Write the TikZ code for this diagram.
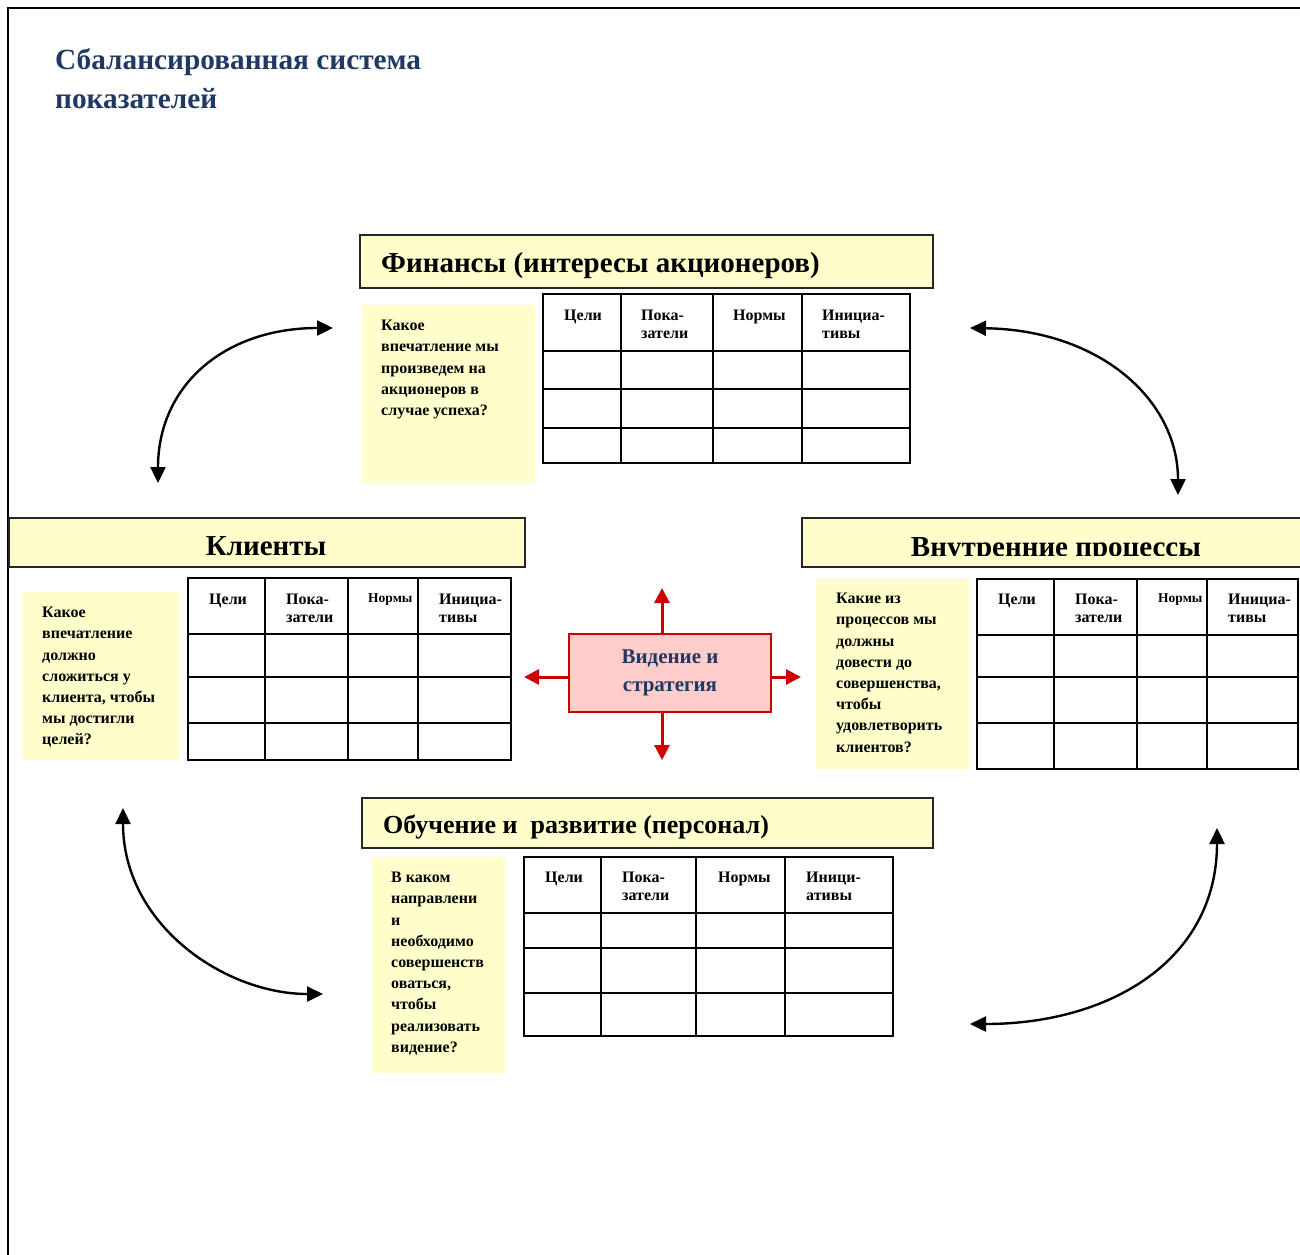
\documentclass[tikz,border=0pt]{standalone}
\usepackage{fontspec}
\setmainfont{Liberation Serif}
\usetikzlibrary{arrows.meta, positioning, calc}
\definecolor{paleyellow}{RGB}{255,255,204}
\definecolor{visionpink}{RGB}{255,204,204}
\definecolor{visionred}{RGB}{204,0,0}
\definecolor{titleblue}{RGB}{31,56,100}

\tikzset{
  headbox/.style={draw=black!85, line width=2.2pt, fill=paleyellow, anchor=north west, inner sep=0pt},
  headtitle/.style={anchor=base west, inner sep=0pt, font=\bfseries\fontsize{29}{32}\selectfont},
  questbox/.style={fill=paleyellow, anchor=north west, inner sep=0pt},
  questtext/.style={anchor=north west, inner sep=0pt, align=left, font=\bfseries\fontsize{16}{21.2}\selectfont},
  celltext/.style={anchor=north west, inner sep=0pt, align=left, font=\bfseries\fontsize{16}{18}\selectfont},
  smallcell/.style={celltext, font=\bfseries\fontsize{13.5}{16}\selectfont},
  gridline/.style={line width=2.2pt},
  cyclearrow/.style={line width=2.4pt, {Triangle[length=16pt,width=15pt]}-{Triangle[length=16pt,width=15pt]}},
  redarrow/.style={draw=visionred, line width=3pt, -{Triangle[length=15pt,width=15pt]}},
  vision/.style={draw=visionred, line width=2pt, fill=visionpink, minimum width=202pt, minimum height=78pt, align=center, text=titleblue, font=\bfseries\fontsize{21}{28}\selectfont}
}

\begin{document}
\begin{tikzpicture}[x=1pt, y=-1pt]
\useasboundingbox (0,0) rectangle (1300,1254);

% page frame
\draw[line width=2.4pt] (8,1260) -- (8,8) -- (1310,8);

% title
\node[anchor=north west, inner sep=0pt, align=left, text=titleblue, font=\bfseries\fontsize{29.3}{39.5}\selectfont] (title) at (55,48) {Сбалансированная система\\показателей};

% finance
\node[headbox, minimum width=573pt, minimum height=53pt] (finHead) at (359,234) {};
\node[headtitle] (finTitle) at (381,272) {Финансы (интересы акционеров)};
\node[questbox, minimum width=173pt, minimum height=178pt] (finQuest) at (362,305) {};
\node[questtext] (finQText) at (381,320) {Какое\\впечатление мы\\произведем на\\акционеров в\\случае успеха?};
\draw[gridline] (543,294) rectangle (910,463);
\foreach \x in {621,713,802} \draw[gridline] (\x,294) -- (\x,463);
\foreach \y in {351,389,428} \draw[gridline] (543,\y) -- (910,\y);
\node[celltext] (finGoals) at (564,310) {Цели};
\node[celltext] (finMeasures) at (641,310) {Пока-\\затели};
\node[celltext] (finTargets) at (733,310) {Нормы};
\node[celltext] (finInits) at (822,310) {Инициа-\\тивы};

% clients
\node[headbox, minimum width=516pt, minimum height=49pt] (cliHead) at (8,517) {};
\node[headtitle, anchor=base] (cliTitle) at (266,555) {Клиенты};
\node[questbox, minimum width=157pt, minimum height=168pt] (cliQuest) at (22,592) {};
\node[questtext] (cliQText) at (42,607) {Какое\\впечатление\\должно\\сложиться у\\клиента, чтобы\\мы достигли\\целей?};
\draw[gridline] (188,578) rectangle (511,760);
\foreach \x in {265,348,418} \draw[gridline] (\x,578) -- (\x,760);
\foreach \y in {634,677,723} \draw[gridline] (188,\y) -- (511,\y);
\node[celltext] (cliGoals) at (209,594) {Цели};
\node[celltext] (cliMeasures) at (286,594) {Пока-\\затели};
\node[smallcell] (cliTargets) at (368,593) {Нормы};
\node[celltext] (cliInits) at (439,594) {Инициа-\\тивы};

% internal processes
\node[headbox, minimum width=510pt, minimum height=49pt] (intHead) at (801,517) {};
\begin{scope}
  \clip (801,517) rectangle (1311,555);
  \node[headtitle, anchor=base] (intTitle) at (1056,556) {Внутренние процессы};
\end{scope}
\node[questbox, minimum width=153pt, minimum height=190pt] (intQuest) at (816,579) {};
\node[questtext] (intQText) at (836,593) {Какие из\\процессов мы\\должны\\довести до\\совершенства,\\чтобы\\удовлетворить\\клиентов?};
\draw[gridline] (977,579) rectangle (1298,769);
\foreach \x in {1054,1137,1207} \draw[gridline] (\x,579) -- (\x,769);
\foreach \y in {635,677,723} \draw[gridline] (977,\y) -- (1298,\y);
\node[celltext] (intGoals) at (998,594) {Цели};
\node[celltext] (intMeasures) at (1075,594) {Пока-\\затели};
\node[smallcell] (intTargets) at (1158,593) {Нормы};
\node[celltext] (intInits) at (1228,594) {Инициа-\\тивы};

% learning and growth
\node[headbox, minimum width=571pt, minimum height=50pt] (learnHead) at (361,797) {};
\node[headtitle, font=\bfseries\fontsize{26}{32}\selectfont] (learnTitle) at (383,833) {Обучение и~ развитие (персонал)};
\node[questbox, minimum width=133pt, minimum height=216pt] (learnQuest) at (372,857) {};
\node[questtext] (learnQText) at (391,872) {В каком\\направлени\\и\\необходимо\\совершенств\\оваться,\\чтобы\\реализовать\\видение?};
\draw[gridline] (524,857) rectangle (893,1036);
\foreach \x in {601,696,785} \draw[gridline] (\x,857) -- (\x,1036);
\foreach \y in {913,948,993} \draw[gridline] (524,\y) -- (893,\y);
\node[celltext] (learnGoals) at (545,872) {Цели};
\node[celltext] (learnMeasures) at (622,872) {Пока-\\затели};
\node[celltext] (learnTargets) at (718,872) {Нормы};
\node[celltext] (learnInits) at (806,872) {Иници-\\ативы};

% vision and strategy
\node[vision] (vision) at (670,673) {Видение и\\стратегия};
\coordinate (visUp) at (662,588);
\coordinate (visDown) at (662,760);
\coordinate (visLeft) at (524,677);
\coordinate (visRight) at (801,677);
\draw[redarrow] (vision.north -| visUp) -- (visUp);
\draw[redarrow] (vision.south -| visDown) -- (visDown);
\draw[redarrow] (vision.west |- visLeft) -- (visLeft);
\draw[redarrow] (vision.east |- visRight) -- (visRight);

% cycle arrows
\coordinate (finLeftEnd) at (333,328);
\coordinate (cliTopEnd) at (158,483);
\coordinate (finRightEnd) at (970,328);
\coordinate (intTopEnd) at (1178,495);
\coordinate (cliBottomEnd) at (123,808);
\coordinate (learnLeftEnd) at (323,994);
\coordinate (intBottomEnd) at (1217,828);
\coordinate (learnRightEnd) at (970,1024);
\draw[cyclearrow] (cliTopEnd) .. controls (158,385) and (225,328) .. (finLeftEnd);
\draw[cyclearrow] (finRightEnd) .. controls (1100,330) and (1178,400) .. (intTopEnd);
\draw[cyclearrow] (cliBottomEnd) .. controls (123,925) and (225,994) .. (learnLeftEnd);
\draw[cyclearrow] (intBottomEnd) .. controls (1217,960) and (1110,1024) .. (learnRightEnd);
\end{tikzpicture}
\end{document}
